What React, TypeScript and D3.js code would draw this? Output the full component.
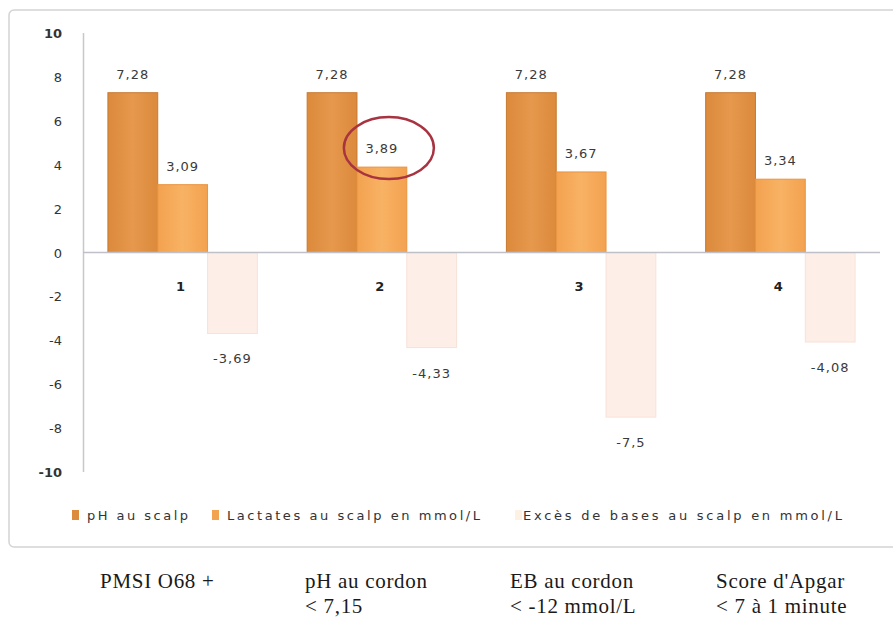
import React, { useEffect, useRef } from 'react';
import * as d3 from 'd3';

// groups and series
const groups: string[] = ['1', '2', '3', '4'];
const seriesNames: string[] = ['pH au scalp', 'Lactates au scalp en mmol/L', 'Excès de bases au scalp en mmol/L'];
const phScalp: number[] = [7.28, 7.28, 7.28, 7.28];
const lactates: number[] = [3.09, 3.89, 3.67, 3.34];
const excesBases: number[] = [-3.69, -4.33, -7.5, -4.08];
const yTicks: number[] = [10, 8, 6, 4, 2, 0, -2, -4, -6, -8, -10];
const criteria: string[][] = [
	['PMSI O68 +'],
	['pH au cordon', '< 7,15'],
	['EB au cordon', '< -12 mmol/L'],
	["Score d'Apgar", '< 7 à 1 minute'],
];

const W = 893;
const H = 620;

// french decimals, plain hyphen for negatives
const fmt = (d: number) => (d < 0 ? '-' : '') + d3.format('.2~f')(Math.abs(d)).replace('.', ',');

const App: React.FC = () => {
	const ref = useRef<SVGSVGElement>(null);

	useEffect(() => {
		document.body.style.margin = '0';
		const svg = d3.select(ref.current);
		svg.selectAll('*').remove();

		const fills = ['url(#gPh)', 'url(#gLac)', '#fdeee8'];
		const strokes = ['#c77a32', '#e9943f', '#f8e2d9'];
		const series = [phScalp, lactates, excesBases];

		const defs = svg.append('defs');
		const grad = (id: string, a: string, b: string) => {
			const lg = defs.append('linearGradient').attr('id', id).attr('x1', 0).attr('x2', 1).attr('y1', 0).attr('y2', 0);
			lg.append('stop').attr('offset', '0%').attr('stop-color', a);
			lg.append('stop').attr('offset', '50%').attr('stop-color', b);
			lg.append('stop').attr('offset', '100%').attr('stop-color', a);
		};
		grad('gPh', '#dc8a3c', '#e6984c');
		grad('gLac', '#f3a24f', '#f8b264');

		// chart frame
		svg.append('rect')
			.attr('x', 9).attr('y', 10).attr('width', 900).attr('height', 537)
			.attr('rx', 5)
			.attr('fill', 'white').attr('stroke', '#d4d4d4').attr('stroke-width', 1.5);

		const y = d3.scaleLinear().domain([-10, 10]).range([472, 33]);
		const x = d3.scaleBand().domain(groups).range([83, 880]).paddingInner(0.25).paddingOuter(0.125);
		const xs = d3.scaleBand<number>().domain([0, 1, 2]).range([0, x.bandwidth()]);

		const g = svg.append('g');

		// y axis line and labels
		g.append('line')
			.attr('x1', 83.5).attr('x2', 83.5).attr('y1', y(10)).attr('y2', y(-10))
			.attr('stroke', '#c8c8c8').attr('stroke-width', 1.5);
		g.selectAll('.ytick')
			.data(yTicks)
			.join('text')
			.attr('class', 'ytick')
			.attr('x', 62)
			.attr('y', (d) => y(d) + 5)
			.attr('text-anchor', 'end')
			.style('font-family', 'DejaVu Sans')
			.style('font-size', '13px')
			.style('font-weight', (d) => (d === 10 || d === -10 ? 'bold' : 'normal'))
			.attr('fill', '#333')
			.text((d) => fmt(d));

		// bars
		series.forEach((vals, si) => {
			g.selectAll('.bar' + si)
				.data(vals)
				.join('rect')
				.attr('class', 'bar' + si)
				.attr('x', (d, i) => (x(groups[i]) as number) + (xs(si) as number))
				.attr('width', xs.bandwidth())
				.attr('y', (d) => y(Math.max(0, d)))
				.attr('height', (d) => Math.abs(y(d) - y(0)))
				.attr('fill', fills[si])
				.attr('stroke', strokes[si])
				.attr('stroke-width', 1);

			g.selectAll('.lab' + si)
				.data(vals)
				.join('text')
				.attr('class', 'lab' + si)
				.attr('x', (d, i) => (x(groups[i]) as number) + (xs(si) as number) + xs.bandwidth() / 2)
				.attr('y', (d) => (d >= 0 ? y(d) - 14 : y(d) + 30))
				.attr('text-anchor', 'middle')
				.style('font-family', 'DejaVu Sans')
				.style('font-size', '13px')
				.style('letter-spacing', '1px')
				.attr('fill', '#3a3a3a')
				.text((d) => fmt(d));
		});

		// zero line
		g.append('line')
			.attr('x1', 83).attr('x2', 880).attr('y1', y(0)).attr('y2', y(0))
			.attr('stroke', '#c0c0c8').attr('stroke-width', 1.5);

		// category labels under the zero line
		g.selectAll('.cat')
			.data(groups)
			.join('text')
			.attr('class', 'cat')
			.attr('x', (d) => (x(d) as number) + x.bandwidth() / 2 - 2)
			.attr('y', y(0) + 38)
			.attr('text-anchor', 'middle')
			.style('font-family', 'DejaVu Sans')
			.style('font-size', '13px')
			.style('font-weight', 'bold')
			.attr('fill', '#222')
			.text((d) => d);

		// red circle around 3,89
		g.append('ellipse')
			.attr('cx', (x(groups[1]) as number) + (xs(1) as number) + xs.bandwidth() / 2 + 7)
			.attr('cy', y(lactates[1]) - 19)
			.attr('rx', 45)
			.attr('ry', 31)
			.attr('fill', 'none')
			.attr('stroke', '#a83341')
			.attr('stroke-width', 2.5);

		// legend
		const legX = [72, 212, 515];
		const legLen = [101, 253, 319];
		const leg = g.selectAll('.leg').data(seriesNames).join('g').attr('class', 'leg')
			.attr('transform', (d, i) => `translate(${legX[i]},515)`);
		leg.append('rect')
			.attr('x', 0).attr('y', -5).attr('width', 7).attr('height', 10)
			.attr('fill', (d, i) => ['#dc8a3c', '#f3a24f', '#fdf1e4'][i]);
		leg.append('text')
			.attr('x', (d, i) => (i === 2 ? 8 : 15))
			.attr('y', 5)
			.attr('textLength', (d, i) => legLen[i])
			.attr('lengthAdjust', 'spacing')
			.style('font-family', 'DejaVu Sans')
			.style('font-size', '13px')
			.attr('fill', '#333')
			.text((d) => d);

		// criteria below the frame
		const cx = [100, 305, 510, 716];
		const crit = svg.selectAll('.crit').data(criteria).join('text').attr('class', 'crit')
			.attr('x', (d, i) => cx[i])
			.attr('y', 588)
			.style('font-family', 'Liberation Serif')
			.style('font-size', '21px')
			.style('letter-spacing', '0.7px')
			.attr('fill', '#1a1a1a');
		crit.selectAll('tspan')
			.data((d) => d)
			.join('tspan')
			.attr('x', function () {
				return d3.select((this as any).parentNode).attr('x');
			})
			.attr('dy', (d, i) => (i === 0 ? 0 : 25))
			.text((d) => d);
	}, []);

	return <svg ref={ref} width={W} height={H} style={{ display: 'block', background: 'white' }} />;
};

export default App;
